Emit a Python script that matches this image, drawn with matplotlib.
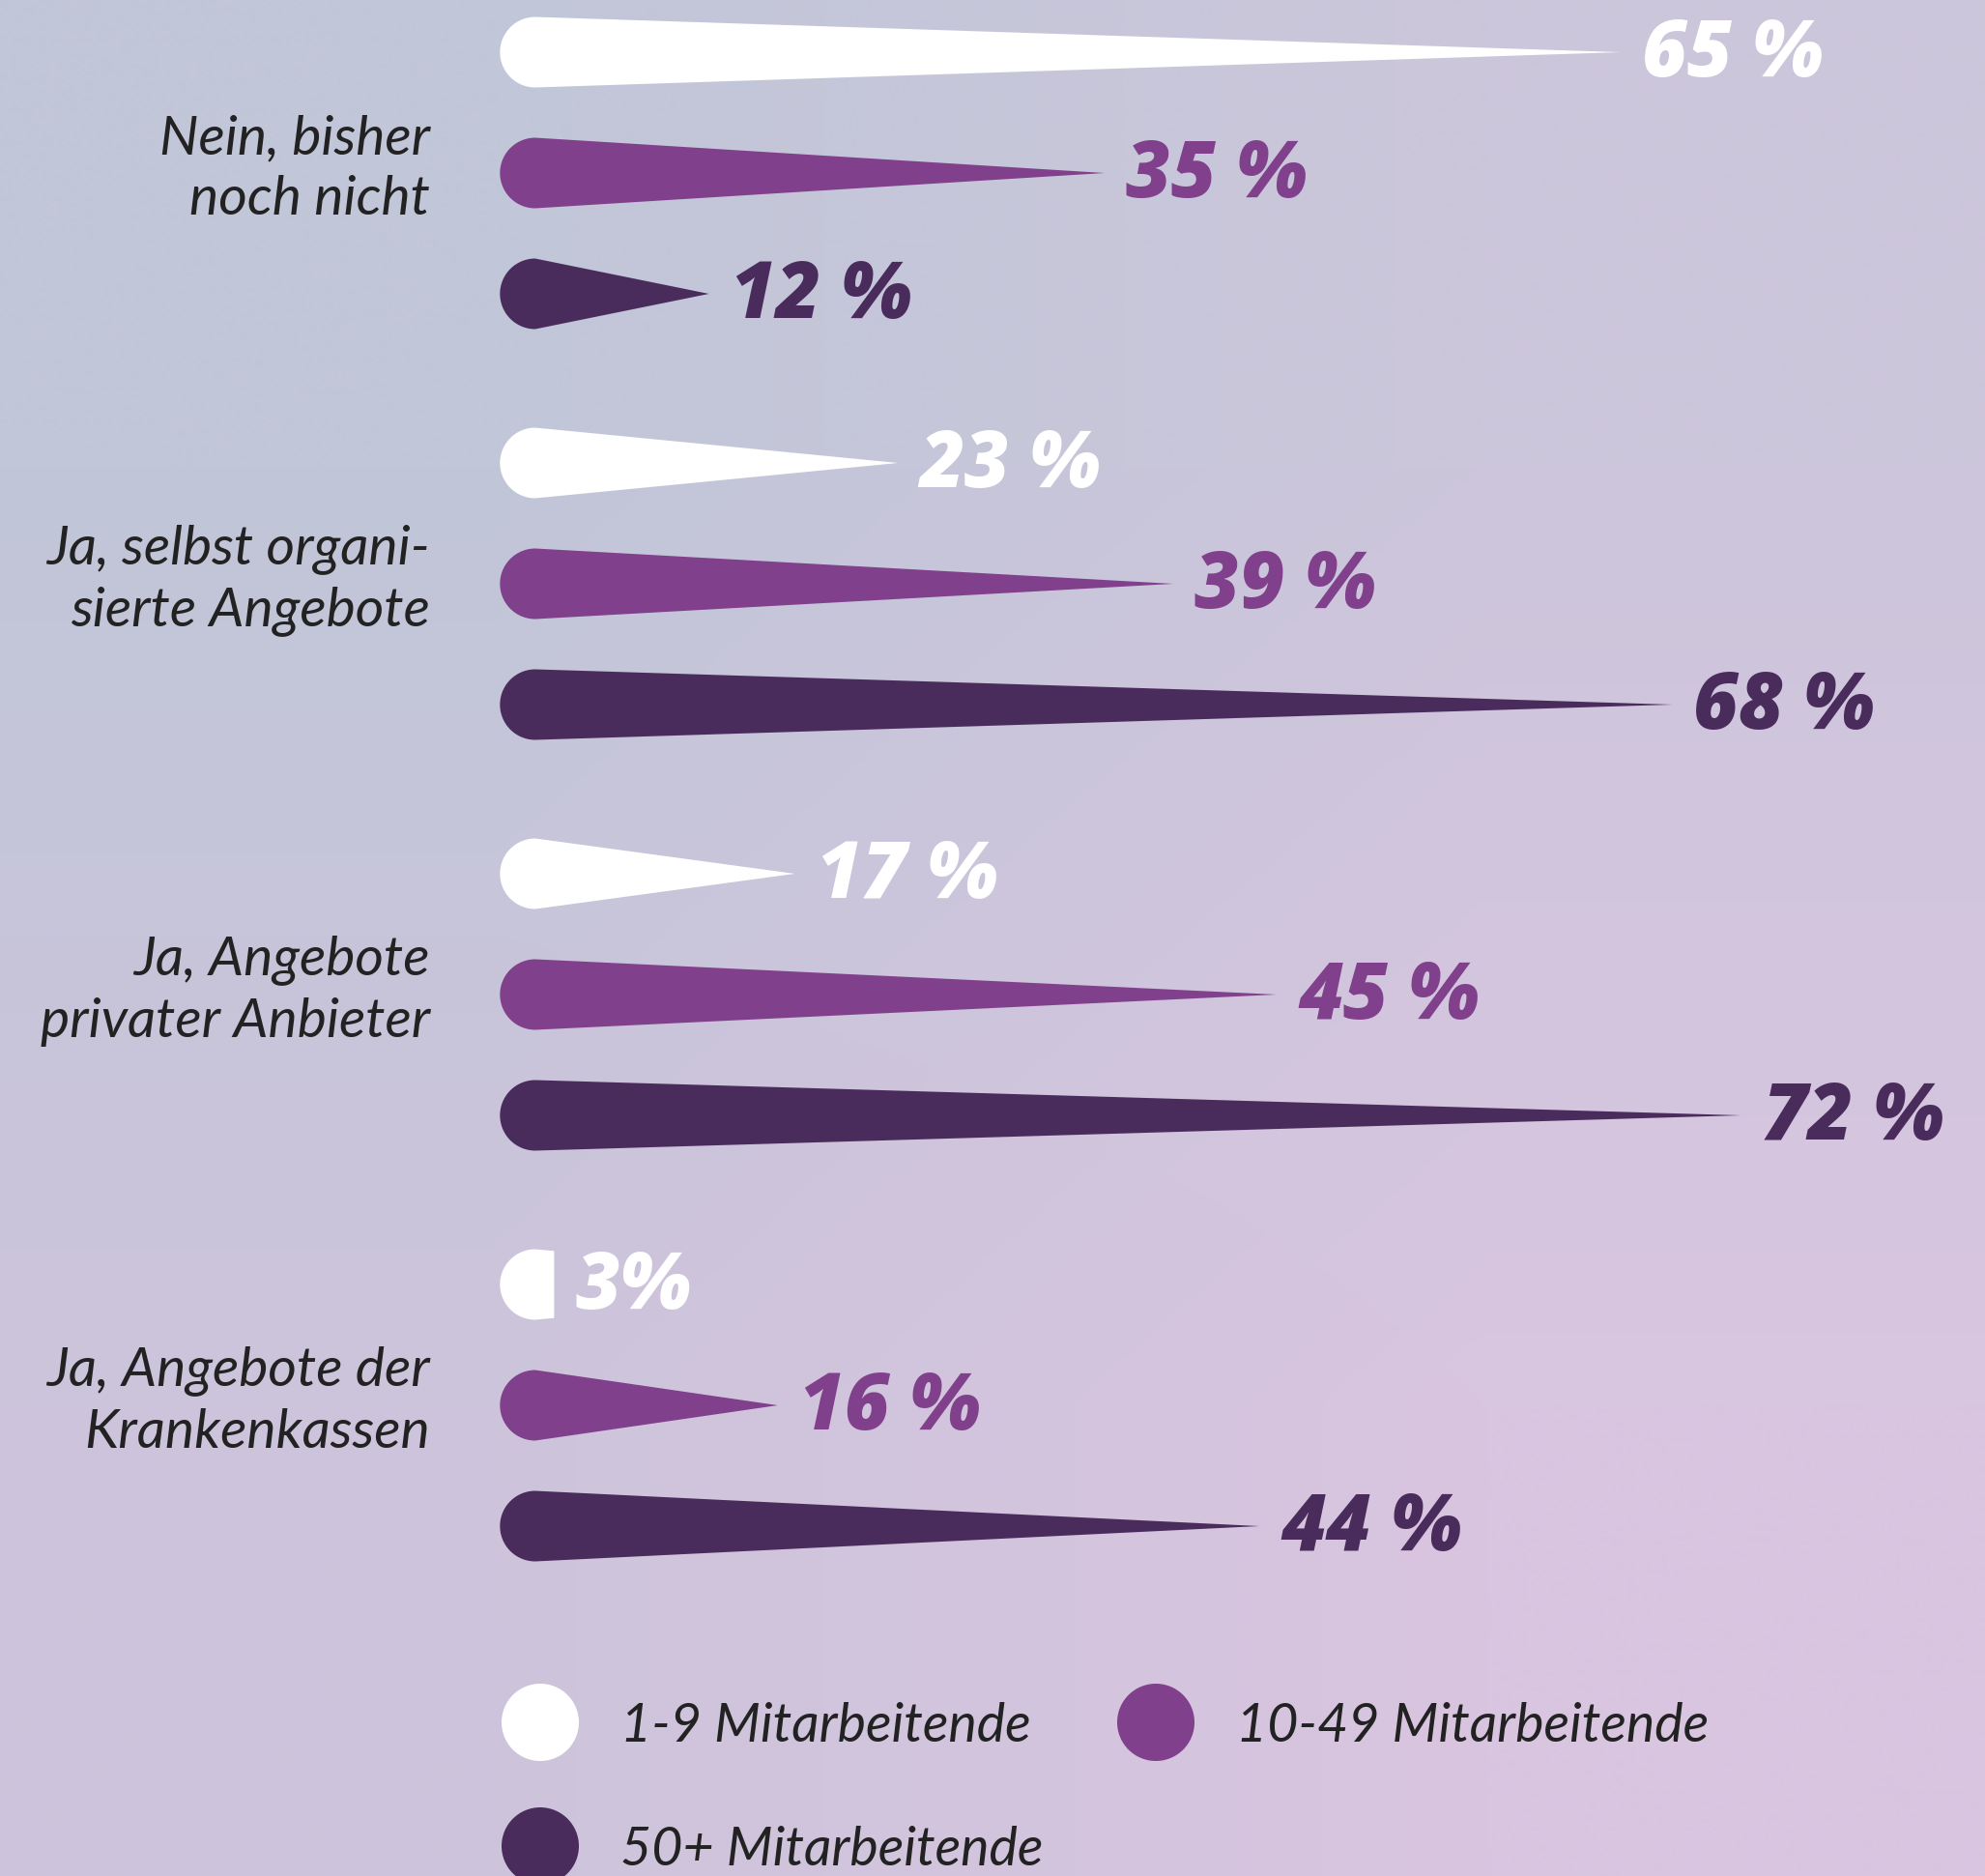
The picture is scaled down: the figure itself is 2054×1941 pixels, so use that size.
import numpy as np
import matplotlib.pyplot as plt
from matplotlib.patches import Polygon, Ellipse

# data
categories = ["Nein, bisher\nnoch nicht",
              "Ja, selbst organi-\nsierte Angebote",
              "Ja, Angebote\nprivater Anbieter",
              "Ja, Angebote der\nKrankenkassen"]
series = ["1-9 Mitarbeitende", "10-49 Mitarbeitende", "50+ Mitarbeitende"]
small = [65, 23, 17, 3]
medium = [35, 39, 45, 16]
large = [12, 68, 72, 44]
labels_small = ["65 %", "23 %", "17 %", "3%"]
labels_medium = ["35 %", "39 %", "45 %", "16 %"]
labels_large = ["12 %", "68 %", "72 %", "44 %"]

colors = ["#FFFFFF", "#80408C", "#4A2C5C"]
text_color = "#222222"

W, H = 2054, 1941
fig = plt.figure(figsize=(W / 100, H / 100), dpi=100)

# background gradient
bg = fig.add_axes([0, 0, 1, 1], zorder=0)
corners = np.array([[[193, 198, 216], [204, 198, 219]],
                    [[205, 196, 220], [217, 197, 224]]]) / 255.
bg.imshow(corners, extent=[0, 1, 0, 1], interpolation="bilinear", aspect="auto", origin="upper")
bg.set_axis_off()

ax = fig.add_axes([0, 0, 1, 1], zorder=1)
ax.patch.set_alpha(0)
ax.set_axis_off()
# x in percent, y in pixels from top
px_per_pct = 17.8
x0_px = 520
ax.set_xlim(-x0_px / px_per_pct, (W - x0_px) / px_per_pct)
ax.set_ylim(H, 0)

half_h = 36.5
cap_r = half_h / px_per_pct
x_left = -0.15
row_start, row_step, group_step = 54, 125, 425
lab_gap = 22 / px_per_pct


def bar_shape(v, yc, color):
    cx = x_left + cap_r
    th = np.linspace(np.pi / 2, 3 * np.pi / 2, 60)
    xs = list(cx + cap_r * np.cos(th))
    ys = list(yc - half_h * np.sin(th))
    if v - cx < 3:
        xs += [v, v]
        ys += [yc + 0.95 * half_h, yc - 0.95 * half_h]
    else:
        xs += [v]
        ys += [yc]
    ax.add_patch(Polygon(np.column_stack([xs, ys]), closed=True, fc=color, ec="none"))


all_vals = [small, medium, large]
all_labs = [labels_small, labels_medium, labels_large]
for g, cat in enumerate(categories):
    for s in range(3):
        yc = row_start + g * group_step + s * row_step
        v = all_vals[s][g]
        bar_shape(v, yc, colors[s])
        ax.text(v + lab_gap, yc + 4, all_labs[s][g], color=colors[s], fontsize=58,
                fontfamily="Open Sans", fontweight="heavy", fontstyle="italic",
                ha="left", va="center")
    ymid = row_start + g * group_step + row_step
    ax.text((445 - x0_px) / px_per_pct, ymid - 4, cat, color=text_color, fontsize=41,
            fontfamily="Lato", fontweight="normal", fontstyle="italic", ha="right",
            va="center", linespacing=1.3, multialignment="right")

# legend
leg_pos = [(559, 1782), (1196, 1782), (559, 1910)]
leg_r = 40
for (lx, ly), name, col in zip(leg_pos, series, colors):
    cx = (lx - x0_px) / px_per_pct
    ax.add_patch(Ellipse((cx, ly), 2 * leg_r / px_per_pct, 2 * leg_r, fc=col, ec="none"))
    ax.text(cx + 83 / px_per_pct, ly + 4, name, color=text_color, fontsize=40,
            fontfamily="Lato", fontweight="normal", fontstyle="italic", ha="left", va="center")

fig.savefig("out.png", dpi=100)
